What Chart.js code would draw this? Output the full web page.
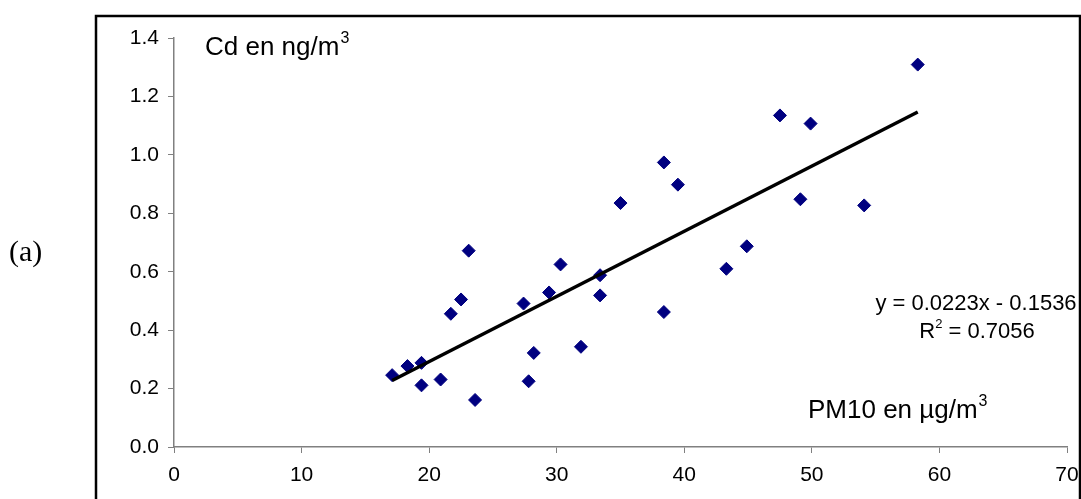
<!DOCTYPE html>
<html>
<head>
<meta charset="utf-8">
<script src="https://cdn.jsdelivr.net/npm/chart.js@4.4.1/dist/chart.umd.min.js"></script>
<style>
    body { margin: 0; background: #ffffff; }
    #wrap { width: 1081px; height: 499px; position: relative; }
</style>
</head>
<body>
<div id="wrap"><canvas id="cdChart" width="1081" height="499"></canvas></div>
<script>
// PM10 (µg/m3) vs Cd (ng/m3)
const pm10 = [17.1, 18.3, 19.4, 19.4, 20.9, 21.7, 22.5, 23.1, 23.6, 27.4, 27.8, 28.2, 29.4, 30.3,
    31.9, 33.4, 33.4, 35.0, 38.4, 38.4, 39.5, 43.3, 44.9, 47.5, 49.1, 49.9, 54.1, 58.3];
const cd = [0.246, 0.277, 0.288, 0.211, 0.231, 0.456, 0.505, 0.672, 0.161, 0.491, 0.225, 0.322, 0.529, 0.625,
    0.343, 0.588, 0.519, 0.835, 0.974, 0.462, 0.898, 0.610, 0.687, 1.135, 0.848, 1.107, 0.827, 1.309];

// linear trend (as printed on the chart)
const slope = 0.0223;
const intercept = -0.1536;
const rSquared = 0.7056;

const xTicks = [0, 10, 20, 30, 40, 50, 60, 70];
const yTicks = [0, 0.2, 0.4, 0.6, 0.8, 1.0, 1.2, 1.4];

const points = pm10.map((x, i) => ({ x: x, y: cd[i] }));
const xMin = Math.min(...pm10);
const xMax = Math.max(...pm10);
const trend = [xMin, xMax].map(x => ({ x: x, y: slope * x + intercept }));

const SANS = "'Liberation Sans', Arial, sans-serif";

// frame + free text labels
const annotations = {
    id: 'annotations',
    afterDraw(chart) {
        const ctx = chart.ctx;
        ctx.save();
        ctx.strokeStyle = '#000000';
        ctx.lineWidth = 2.5;
        ctx.strokeRect(96, 16, 984, 520);

        ctx.fillStyle = '#000000';
        ctx.textBaseline = 'alphabetic';

        function withSup(text, sup, x, y, size) {
            ctx.textAlign = 'left';
            ctx.font = size + 'px ' + SANS;
            const w1 = ctx.measureText(text).width;
            ctx.fillText(text, x, y);
            ctx.font = Math.round(size * 0.6) + 'px ' + SANS;
            ctx.fillText(sup, x + w1 + 1, y - size * 0.45);
        }

        withSup('Cd en ng/m', '3', 205, 55, 26);
        withSup('PM10 en µg/m', '3', 808, 418, 26);

        ctx.font = '22px ' + SANS;
        ctx.textAlign = 'center';
        const sign = intercept < 0 ? ' - ' : ' + ';
        ctx.fillText('y = ' + slope.toFixed(4) + 'x' + sign + Math.abs(intercept).toFixed(4), 976, 310);

        // R² line, centred under the equation
        ctx.font = '22px ' + SANS;
        const wR = ctx.measureText('R').width;
        const wRest = ctx.measureText(' = ' + rSquared.toFixed(4)).width;
        ctx.font = '13px ' + SANS;
        const w2 = ctx.measureText('2').width;
        let x0 = 977 - (wR + w2 + wRest) / 2;
        ctx.textAlign = 'left';
        ctx.font = '22px ' + SANS;
        ctx.fillText('R', x0, 338);
        ctx.font = '13px ' + SANS;
        ctx.fillText('2', x0 + wR, 328);
        ctx.font = '22px ' + SANS;
        ctx.fillText(' = ' + rSquared.toFixed(4), x0 + wR + w2, 338);

        ctx.font = "30px 'Liberation Serif', 'Times New Roman', serif";
        ctx.fillText('(a)', 9, 261);
        ctx.restore();
    }
};

const cdChart = document.getElementById('cdChart');
new Chart(cdChart, {
    type: 'scatter',
    data: {
        datasets: [{
            data: trend,
            showLine: true,
            borderColor: '#000000',
            borderWidth: 3.5,
            pointRadius: 0,
            order: 0
        }, {
            data: points,
            pointStyle: 'rectRot',
            pointRadius: 6.5,
            backgroundColor: '#000080',
            borderColor: '#000080',
            borderWidth: 1,
            order: 1
        }]
    },
    options: {
        responsive: false,
        animation: false,
        layout: {
            padding: { left: 96, top: 38, right: 14, bottom: 0 }
        },
        plugins: {
            legend: false,
            tooltip: {
                enabled: false
            }
        },
        scales: {
            x: {
                type: 'linear',
                min: 0,
                max: 70,
                afterFit: (scale) => {
                    scale.height = 52;
                    scale.paddingLeft = 0;
                    scale.paddingRight = 0;
                },
                afterBuildTicks: (scale) => { scale.ticks = xTicks.map(v => ({ value: v })); },
                grid: {
                    drawOnChartArea: false,
                    drawTicks: true,
                    tickLength: 6,
                    color: '#808080'
                },
                border: {
                    color: '#808080',
                    width: 1.5
                },
                ticks: {
                    color: '#000000',
                    padding: 10,
                    maxRotation: 0,
                    font: { family: SANS, size: 21 }
                }
            },
            y: {
                type: 'linear',
                min: 0,
                max: 1.4,
                afterFit: (scale) => {
                    scale.width = 78;
                    scale.paddingTop = 0;
                    scale.paddingBottom = 0;
                },
                afterBuildTicks: (scale) => { scale.ticks = yTicks.map(v => ({ value: v })); },
                grid: {
                    drawOnChartArea: false,
                    drawTicks: true,
                    tickLength: 6,
                    color: '#808080'
                },
                border: {
                    color: '#808080',
                    width: 1.5
                },
                ticks: {
                    color: '#000000',
                    padding: 9,
                    callback: (v) => v.toFixed(1),
                    font: { family: SANS, size: 21 }
                }
            }
        }
    },
    plugins: [annotations]
});
</script>
</body>
</html>
